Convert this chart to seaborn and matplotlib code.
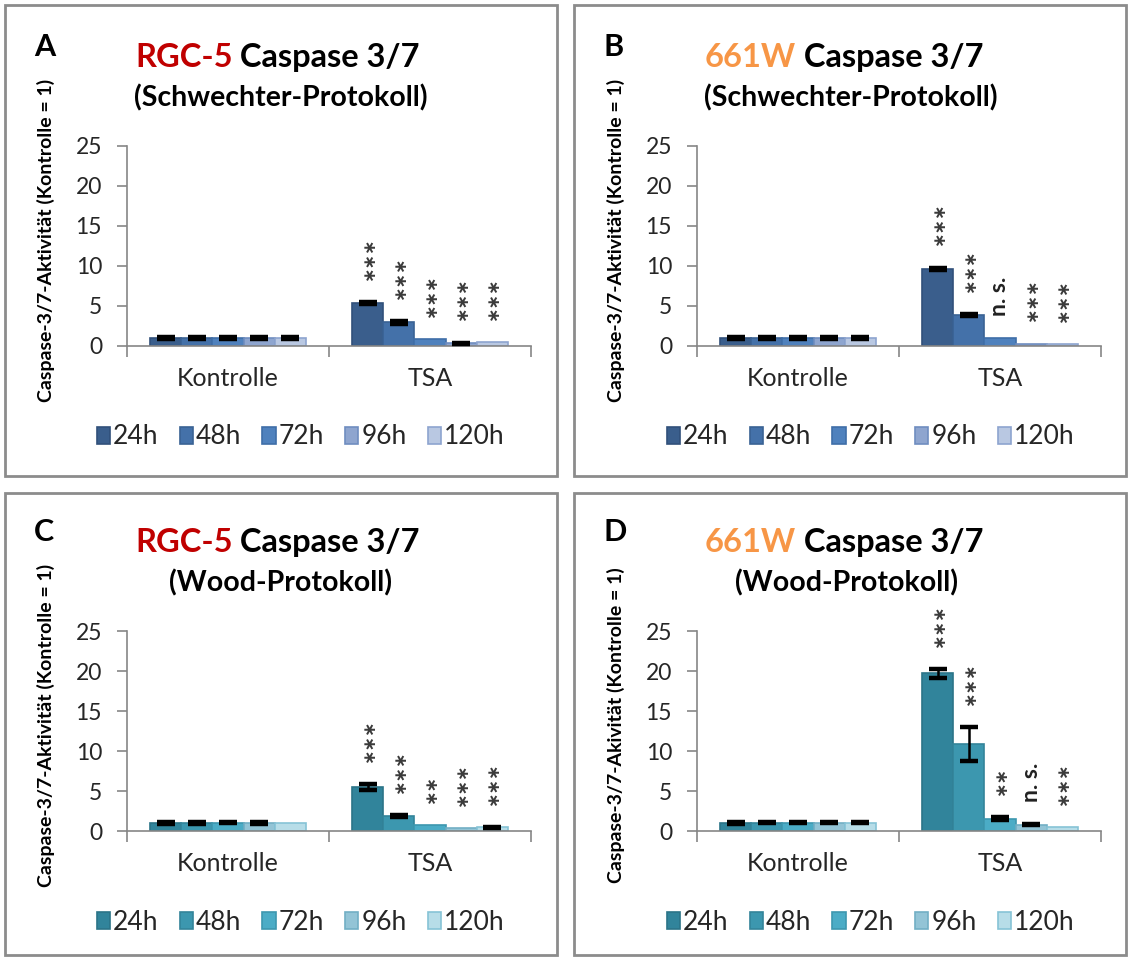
import numpy as np
import pandas as pd
import matplotlib
matplotlib.use('Agg')
import matplotlib.pyplot as plt
import seaborn as sns
from matplotlib.patches import Rectangle, Patch
from matplotlib.container import BarContainer

sns.set_theme(style='white')
plt.rcParams['font.family'] = ['Lato', 'DejaVu Sans']
plt.rcParams['text.color'] = 'black'

groups = ['Kontrolle', 'TSA']
times = ['24h', '48h', '72h', '96h', '120h']

# A: RGC-5, Schwechter-Protokoll
a_kon = [1.0, 1.0, 1.0, 1.0, 1.0]
a_kon_err = [0.08, 0.08, 0.08, 0.08, 0.08]
a_tsa = [5.35, 2.95, 0.85, 0.35, 0.5]
a_tsa_err = [0.12, 0.15, 0.0, 0.08, 0.0]
a_sig = ['***', '***', '***', '***', '***']

# B: 661W, Schwechter-Protokoll
b_kon = [1.0, 1.0, 1.0, 1.0, 1.0]
b_kon_err = [0.08, 0.08, 0.08, 0.08, 0.08]
b_tsa = [9.65, 3.85, 1.0, 0.3, 0.2]
b_tsa_err = [0.15, 0.12, 0.0, 0.0, 0.0]
b_sig = ['***', '***', 'n. s.', '***', '***']

# C: RGC-5, Wood-Protokoll
c_kon = [1.0, 1.0, 1.05, 1.0, 1.0]
c_kon_err = [0.08, 0.08, 0.1, 0.08, 0.0]
c_tsa = [5.5, 1.9, 0.75, 0.4, 0.45]
c_tsa_err = [0.35, 0.1, 0.0, 0.0, 0.08]
c_sig = ['***', '***', '**', '***', '***']

# D: 661W, Wood-Protokoll
d_kon = [1.0, 1.05, 1.05, 1.05, 1.05]
d_kon_err = [0.1, 0.1, 0.1, 0.1, 0.1]
d_tsa = [19.7, 10.9, 1.55, 0.8, 0.45]
d_tsa_err = [0.55, 2.1, 0.15, 0.1, 0.0]
d_sig = ['***', '***', '**', 'n. s.', '***']

blues = ['#3A5E8C', '#4471A9', '#4F81BD', '#8EA5CF', '#B9C8E2']
blue_edges = ['#31507A', '#3A6294', '#3F6EA8', '#6F8DC0', '#8DA4CF']
teals = ['#31849B', '#3C97AF', '#4BACC6', '#93C4D6', '#B7DDE8']
teal_edges = ['#2B7488', '#33849A', '#3D97AF', '#72AFC5', '#86C3D6']

W, H = 1130, 959
fig = plt.figure(figsize=(W / 100, H / 100), dpi=100)

panels = [
    dict(letter='A', cell='RGC-5', cell_color='#C00000', proto='(Schwechter-Protokoll)',
         kon=a_kon, kon_err=a_kon_err, tsa=a_tsa, tsa_err=a_tsa_err, sig=a_sig,
         colors=blues, edges=blue_edges, ylabel='Caspase-3/7-Aktivität (Kontrolle = 1)',
         dx=0, dy=0, sub_cx=281),
    dict(letter='B', cell='661W', cell_color='#F79646', proto='(Schwechter-Protokoll)',
         kon=b_kon, kon_err=b_kon_err, tsa=b_tsa, tsa_err=b_tsa_err, sig=b_sig,
         colors=blues, edges=blue_edges, ylabel='Caspase-3/7-Aktivität (Kontrolle = 1)',
         dx=570, dy=0, sub_cx=851),
    dict(letter='C', cell='RGC-5', cell_color='#C00000', proto='(Wood-Protokoll)',
         kon=c_kon, kon_err=c_kon_err, tsa=c_tsa, tsa_err=c_tsa_err, sig=c_sig,
         colors=teals, edges=teal_edges, ylabel='Caspase-3/7-Aktivität (Kontrolle = 1)',
         dx=0, dy=485, sub_cx=280),
    dict(letter='D', cell='661W', cell_color='#F79646', proto='(Wood-Protokoll)',
         kon=d_kon, kon_err=d_kon_err, tsa=d_tsa, tsa_err=d_tsa_err, sig=d_sig,
         colors=teals, edges=teal_edges, ylabel='Caspase-3/7-Akivität (Kontrolle = 1)',
         dx=570, dy=485, sub_cx=846),
]

axis_grey = '#868686'
label_grey = '#262626'

for p in panels:
    dx, dy = p['dx'], p['dy']
    # panel frame
    top_box = 5 if dy == 0 else 493
    bot_box = 476 if dy == 0 else 955
    left_box = 5 + dx - (1 if dx else 0)
    fig.add_artist(Rectangle((left_box / W, 1 - bot_box / H), 552 / W, (bot_box - top_box) / H,
                             transform=fig.transFigure, fill=False,
                             edgecolor='#8C8C8C', lw=2))

    # axes
    l, t, r, b = 127 + dx, 146 + dy, 531 + dx, 346 + dy
    ax = fig.add_axes([l / W, 1 - b / H, (r - l) / W, (b - t) / H])

    df = pd.DataFrame({
        'group': np.repeat(groups, len(times)),
        'time': times * 2,
        'value': list(p['kon']) + list(p['tsa']),
    })
    errs = [p['kon_err'], p['tsa_err']]
    sns.barplot(data=df, x='group', y='value', hue='time', order=groups,
                hue_order=times, palette=p['colors'], width=0.77, errorbar=None,
                legend=False, saturation=1, ax=ax)

    bar_sets = [c for c in ax.containers if isinstance(c, BarContainer)]
    for i, cont in enumerate(bar_sets):
        for j, bar in enumerate(cont.patches):
            bar.set_edgecolor(p['edges'][i])
            bar.set_linewidth(1.2)
            x = bar.get_x() + bar.get_width() / 2
            val = bar.get_height()
            e = errs[j][i]
            if e > 0:
                ax.errorbar(x, val, yerr=e, fmt='none', ecolor='black',
                            elinewidth=1.8, capsize=6.5, capthick=3.2, zorder=5)
            if j == 1:
                s = p['sig'][i]
                if s.startswith('*'):
                    ax.annotate(s.replace('*', '\u2217'), xy=(x, val + e), xytext=(0.5, 16),
                                textcoords='offset points', rotation=90,
                                ha='center', va='bottom', fontsize=12.5,
                                family='DejaVu Sans', fontweight='bold',
                                color='#3a3a3a')
                else:
                    ax.annotate(s, xy=(x, val + e), xytext=(0, 16),
                                textcoords='offset points', rotation=90,
                                ha='center', va='bottom', fontsize=16.5,
                                fontweight='bold', color='#222222')

    ax.set_ylim(0, 25)
    ax.set_xlim(-0.5, 1.5)
    ax.set_yticks([0, 5, 10, 15, 20, 25])
    ax.set_xticks([-0.5, 0.5, 1.5])
    ax.set_xticklabels([])
    ax.set_xticks([0, 1], minor=True)
    ax.set_xticklabels(groups, minor=True)
    ax.tick_params(axis='x', which='major', direction='out', length=8,
                   width=1.2, color=axis_grey, bottom=True)
    ax.tick_params(axis='x', which='minor', length=0, pad=15, labelsize=18,
                   labelcolor=label_grey)
    ax.tick_params(axis='y', direction='out', length=7, width=1.2,
                   color=axis_grey, left=True, pad=11, labelsize=16.5,
                   labelcolor=label_grey)
    ax.set_xlabel('')
    ax.set_ylabel('')
    for s in ['top', 'right']:
        ax.spines[s].set_visible(False)
    for s in ['left', 'bottom']:
        ax.spines[s].set_color(axis_grey)
        ax.spines[s].set_linewidth(1.2)

    handles = [Patch(facecolor=c, edgecolor=ec, linewidth=1.2)
               for c, ec in zip(p['colors'], p['edges'])]
    ax.legend(handles, times, loc='center', bbox_to_anchor=(0.43, -0.455), ncol=5,
              frameon=False, fontsize=19, handlelength=0.5, handleheight=0.6,
              handletextpad=0.12, columnspacing=0.8, labelcolor=label_grey,
              borderpad=0, borderaxespad=0)

    # labels and titles
    fig.text((46 + dx) / W, 1 - (240 + dy) / H, p['ylabel'], rotation=90,
             ha='center', va='center', fontsize=14, fontweight='bold')
    fig.text((34 + dx) / W, 1 - (56 + dy) / H, p['letter'], ha='left',
             va='baseline', fontsize=22, fontweight='bold')
    t1 = fig.text((135 + dx) / W, 1 - (67 + dy) / H, p['cell'], ha='left',
                  va='baseline', fontsize=23.5, fontweight='bold', color=p['cell_color'])
    ax.annotate(' Caspase 3/7', xy=(1, 0), xycoords=t1, ha='left', va='bottom',
                fontsize=23.5, fontweight='bold', color='black', annotation_clip=False)
    fig.text(p['sub_cx'] / W, 1 - (106 + dy) / H, p['proto'], ha='center',
             va='baseline', fontsize=20.5, fontweight='bold')

fig.savefig('out.png', dpi=100)
